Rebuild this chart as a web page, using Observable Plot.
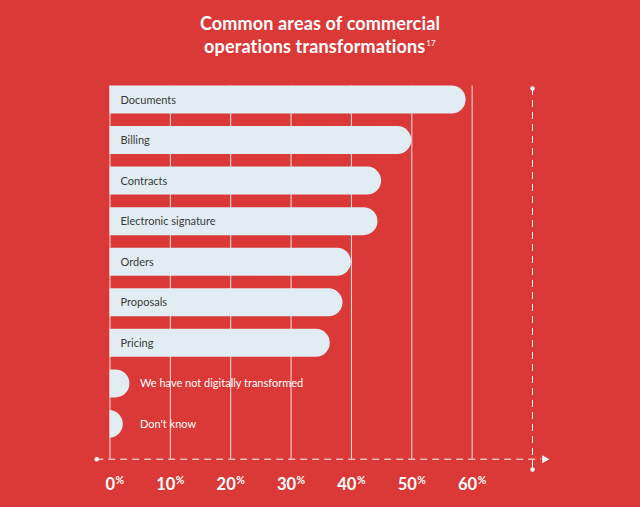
<!DOCTYPE html>
<html><head><meta charset="utf-8">
<script src="https://cdn.jsdelivr.net/npm/d3@7"></script>
<script src="https://cdn.jsdelivr.net/npm/@observablehq/plot@0.6"></script>
<style>
html,body{margin:0;padding:0;background:#DA3937;width:640px;height:507px;overflow:hidden}
#title{height:70px;box-sizing:border-box;padding-top:12px;text-align:center;color:#fff;font-family:Lato,sans-serif;font-weight:700;font-size:18px;line-height:23px;letter-spacing:0.15px}
#title sup{font-size:8px;font-weight:400;vertical-align:top;position:relative;top:-3px;margin-left:1px}
#chart svg{display:block}
</style></head><body>
<div id="title">Common areas of commercial<br>operations transformations<sup>17</sup></div>
<div id="chart"></div>
<script>
const categories = ["Documents","Billing","Contracts","Electronic signature","Orders","Proposals","Pricing","We have not digitally transformed","Don't know"];
const values = [59, 50, 45, 44.4, 40, 38.6, 36.5, 3.3, 2.2];
const tickValues = [0, 10, 20, 30, 40, 50, 60];
const tickLabels = ["0", "10", "20", "30", "40", "50", "60"];
const axisMax = 70;

const rows = categories.map((c, i) => ({category: c, index: i, value: values[i]}));
const ticks = tickValues.map((v, i) => ({value: v, label: tickLabels[i]}));

const font = "Lato, 'Noto Sans', sans-serif";
const axisY = 8.856;
const barHalf = 0.345;

const chart = Plot.plot({
  width: 640,
  height: 437,
  marginLeft: 109.5,
  marginRight: 108,
  marginTop: 9.22,
  marginBottom: 22.2,
  x: {domain: [0, axisMax], axis: null},
  y: {domain: [-0.5, 9.5], reverse: true, axis: null},
  style: {background: "transparent", overflow: "visible", fontFamily: font},
  marks: [
    Plot.ruleX(tickValues, {y1: -barHalf, y2: axisY, stroke: "#fff", strokeOpacity: 0.85, strokeWidth: 1}),
    Plot.rect(rows, {x1: -10, x2: "value", y1: d => d.index - barHalf, y2: d => d.index + barHalf, rx: 14, fill: "#E2EDF3", clip: true}),
    Plot.text(rows.filter(d => d.value >= 10), {x: 0, y: "index", text: "category", dx: 10.5, textAnchor: "start", fill: "#3a3a3a", fontSize: 11, fontFamily: font}),
    Plot.text(rows.filter(d => d.value < 10), {x: 0, y: "index", text: "category", dx: 30, textAnchor: "start", fill: "#fff", fontSize: 11, fontFamily: font}),
    Plot.ruleY([axisY], {x1: -2.2, x2: 71.5, stroke: "#fff", strokeDasharray: "7,5", strokeWidth: 1}),
    Plot.ruleX([axisMax], {y1: -0.284, y2: 9.11, stroke: "#fff", strokeDasharray: "7,5", strokeWidth: 1}),
    Plot.dot([[-2.2, axisY], [axisMax, -0.284], [axisMax, 9.11]], {x: d => d[0], y: d => d[1], r: 2.2, fill: "#fff", stroke: null}),
    Plot.dot([[72, axisY]], {x: d => d[0], y: d => d[1], symbol: "triangle", rotate: 90, r: 3, fill: "#fff", stroke: null}),
    Plot.text(ticks, {x: "value", y: 9.628, text: "label", dx: 5, textAnchor: "end", lineAnchor: "bottom", fill: "#fff", fontSize: 16.5, fontWeight: 700, fontFamily: font}),
    Plot.text(ticks, {x: "value", y: 9.47, text: () => "%", dx: 5.5, textAnchor: "start", lineAnchor: "bottom", fill: "#fff", fontSize: 10.5, fontWeight: 700, fontFamily: font})
  ]
});
document.getElementById("chart").appendChild(chart);
</script>
</body></html>
